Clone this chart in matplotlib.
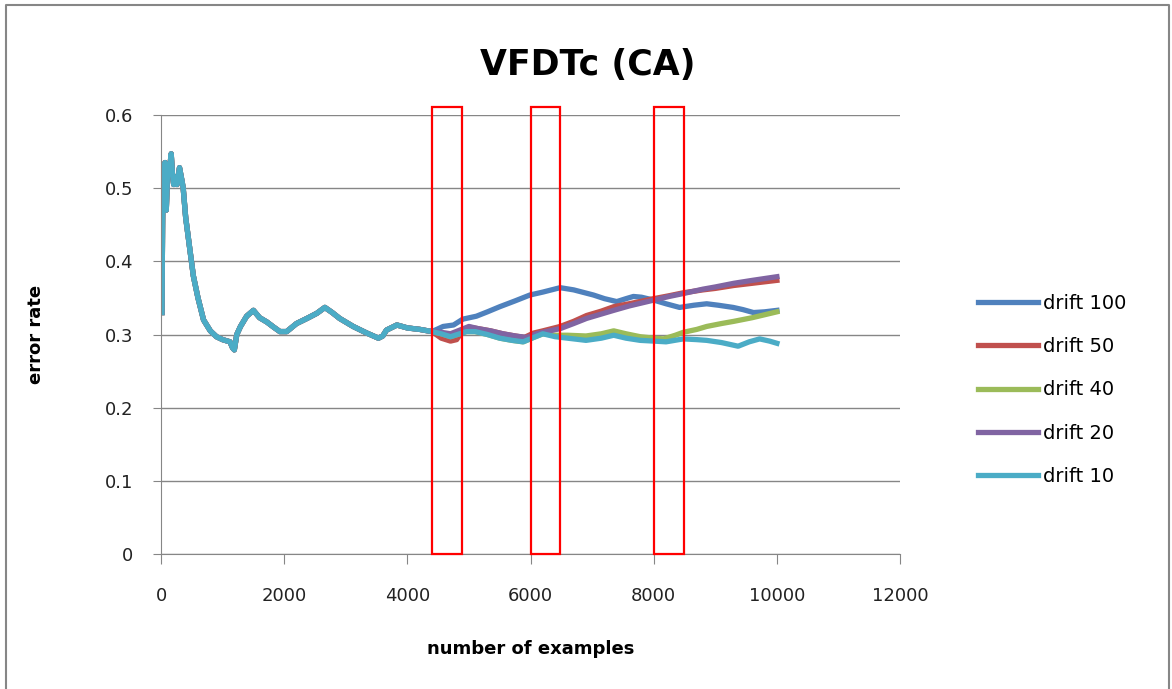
import matplotlib
matplotlib.use("Agg")
import matplotlib.pyplot as plt
from matplotlib.patches import Rectangle
from matplotlib.lines import Line2D

# shared stretch of the error curve before the drifts start to separate
common_x = [15, 25, 35, 50, 65, 85, 110, 130, 165, 185, 205, 240, 260, 300, 340,
            360, 400, 470, 525, 600, 690, 800, 900, 1000, 1120, 1160, 1190, 1230,
            1290, 1390, 1500, 1600, 1720, 1830, 1930, 2040, 2200, 2370, 2530, 2660,
            2780, 2900, 3120, 3340, 3530, 3600, 3660, 3830, 4000, 4200, 4400]
common_y = [0.330, 0.450, 0.530, 0.490, 0.535, 0.470, 0.530, 0.520, 0.547, 0.520,
            0.505, 0.515, 0.505, 0.528, 0.510, 0.500, 0.460, 0.415, 0.380, 0.350,
            0.320, 0.305, 0.297, 0.293, 0.290, 0.282, 0.279, 0.300, 0.311, 0.325,
            0.333, 0.323, 0.317, 0.310, 0.304, 0.304, 0.315, 0.322, 0.329, 0.337,
            0.330, 0.322, 0.311, 0.302, 0.295, 0.298, 0.306, 0.313, 0.309, 0.307,
            0.304]

d10_x = [4550, 4700, 4850, 4960, 5100, 5300, 5500, 5700, 5880, 6050, 6200, 6400,
         6600, 6900, 7150, 7350, 7550, 7780, 8000, 8200, 8480, 8700, 8860, 9100,
         9370, 9550, 9720, 9880, 10000]
d10_y = [0.301, 0.297, 0.301, 0.304, 0.304, 0.300, 0.295, 0.292, 0.290, 0.296,
         0.301, 0.297, 0.295, 0.292, 0.295, 0.299, 0.295, 0.292, 0.291, 0.290,
         0.294, 0.293, 0.292, 0.289, 0.284, 0.290, 0.294, 0.291, 0.288]

d40_x = [4550, 4700, 4850, 4960, 5100, 5300, 5500, 5700, 5880, 6050, 6200, 6400,
         6600, 6900, 7150, 7350, 7550, 7780, 8000, 8160, 8350, 8480, 8700, 8860,
         9100, 9300, 9600, 9800, 10000]
d40_y = [0.301, 0.297, 0.301, 0.304, 0.304, 0.300, 0.295, 0.292, 0.290, 0.296,
         0.301, 0.299, 0.299, 0.298, 0.301, 0.305, 0.301, 0.297, 0.295, 0.294,
         0.299, 0.303, 0.307, 0.311, 0.315, 0.318, 0.323, 0.327, 0.331]

d20_x = [4550, 4700, 4850, 5000, 5150, 5350, 5550, 5750, 5940, 6100, 6250, 6480,
         6700, 6910, 7150, 7350, 7600, 8000, 8250, 8480, 8800, 9000, 9300, 9600,
         10000]
d20_y = [0.303, 0.301, 0.306, 0.311, 0.308, 0.305, 0.301, 0.298, 0.296, 0.301,
         0.304, 0.308, 0.315, 0.322, 0.328, 0.333, 0.339, 0.347, 0.352, 0.356,
         0.362, 0.365, 0.370, 0.374, 0.379]

d50_x = [4550, 4700, 4800, 4900, 5000, 5150, 5350, 5550, 5750, 5900, 6050, 6200,
         6480, 6700, 6910, 7150, 7350, 7600, 8000, 8250, 8480, 8800, 9000, 9300,
         9600, 10000]
d50_y = [0.295, 0.291, 0.293, 0.306, 0.310, 0.308, 0.305, 0.301, 0.298, 0.296,
         0.302, 0.305, 0.311, 0.318, 0.326, 0.332, 0.338, 0.342, 0.349, 0.353,
         0.357, 0.361, 0.363, 0.367, 0.370, 0.374]

d100_x = [4580, 4750, 4900, 5120, 5300, 5500, 5750, 5990, 6200, 6480, 6700, 7020,
          7200, 7400, 7550, 7670, 7800, 8000, 8200, 8420, 8650, 8860, 9050, 9290,
          9450, 9620, 9800, 10000]
d100_y = [0.311, 0.313, 0.321, 0.325, 0.331, 0.338, 0.346, 0.354, 0.358, 0.364,
          0.361, 0.354, 0.349, 0.345, 0.349, 0.352, 0.351, 0.347, 0.342, 0.337,
          0.340, 0.342, 0.340, 0.337, 0.334, 0.330, 0.331, 0.333]

labels = ["drift 100", "drift 50", "drift 40", "drift 20", "drift 10"]
colors = ["#4F81BD", "#C0504D", "#9BBB59", "#8064A2", "#4BACC6"]
tails = [(d100_x, d100_y), (d50_x, d50_y), (d40_x, d40_y),
         (d20_x, d20_y), (d10_x, d10_y)]

# drift windows marked on the chart (start, end) in examples
windows = [(4400, 4880), (6000, 6480), (8000, 8490)]
window_top = 0.611

fig = plt.figure(figsize=(11.72, 6.89), dpi=100)
ax = fig.add_axes([0.1374, 0.1959, 0.6306, 0.6372])

for lab, col, (tx, ty) in zip(labels, colors, tails):
    ax.plot(common_x + tx, common_y + ty, color=col, lw=3.8, label=lab,
            solid_joinstyle="round")

for x0, x1 in windows:
    ax.add_patch(Rectangle((x0, 0), x1 - x0, window_top, fill=False,
                           edgecolor="#FF0000", lw=1.6, clip_on=False, zorder=5))

grey = "#868686"
ax.set_xlim(0, 12000)
ax.set_ylim(0, 0.6)
ax.set_xticks(range(0, 12001, 2000))
ax.set_yticks([0, 0.1, 0.2, 0.3, 0.4, 0.5, 0.6])
ax.set_yticklabels(["0", "0.1", "0.2", "0.3", "0.4", "0.5", "0.6"])
ax.yaxis.grid(True, color=grey, lw=1)
ax.set_axisbelow(True)
for side in ("top", "right"):
    ax.spines[side].set_visible(False)
for side in ("left", "bottom"):
    ax.spines[side].set_color(grey)
ax.tick_params(axis="y", length=6, color=grey, pad=14, labelsize=13,
               labelcolor="#222222")
ax.tick_params(axis="x", length=7, color=grey, pad=17, labelsize=13,
               labelcolor="#222222")

ax.set_xlabel("number of examples", fontsize=13, fontweight="bold")
ax.xaxis.set_label_coords(0.5, -0.195)
ax.set_ylabel("error rate", fontsize=13, fontweight="bold")
ax.yaxis.set_label_coords(-0.157, 0.5)

fig.text(588 / 1172, 1 - 65 / 689, "VFDTc (CA)", ha="center", va="center",
         fontsize=25, fontweight="bold")

ax.legend(loc="center left", bbox_to_anchor=(0.8345, 0.434),
          bbox_transform=fig.transFigure, frameon=False, fontsize=14,
          handlelength=3.1, handletextpad=0.25, labelspacing=1.25,
          borderpad=0, borderaxespad=0)

# outer chart border (left, top, right)
fig.add_artist(Line2D([6 / 1172, 6 / 1172, 1169 / 1172, 1169 / 1172],
                      [0, 1 - 5 / 689, 1 - 5 / 689, 0],
                      transform=fig.transFigure, color=grey, lw=1.5))

fig.savefig("out.png", dpi=100)
